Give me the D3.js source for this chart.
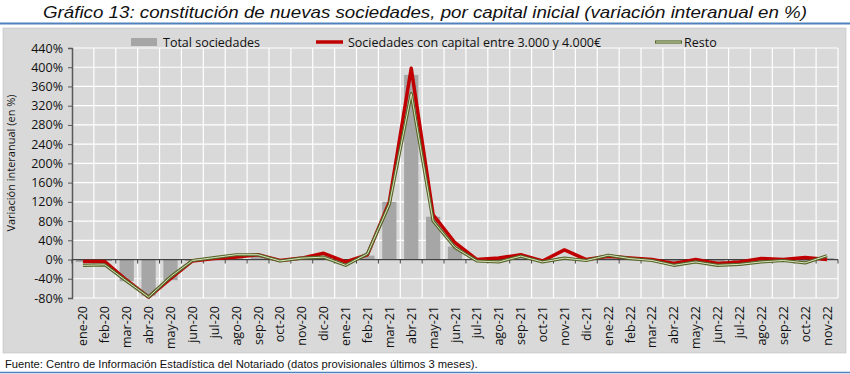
<!DOCTYPE html>
<html>
<head>
<meta charset="utf-8">
<script src="https://cdn.jsdelivr.net/npm/d3@7"></script>
<style>
  body { margin: 0; background: #fff; }
  svg { display: block; }
</style>
</head>
<body>
<div id="chart"></div>
<script>
// months shown on the x axis
var months = ["ene-20","feb-20","mar-20","abr-20","may-20","jun-20","jul-20","ago-20","sep-20","oct-20","nov-20","dic-20",
  "ene-21","feb-21","mar-21","abr-21","may-21","jun-21","jul-21","ago-21","sep-21","oct-21","nov-21","dic-21",
  "ene-22","feb-22","mar-22","abr-22","may-22","jun-22","jul-22","ago-22","sep-22","oct-22","nov-22"];

// Total sociedades (bars)
var total = [-5, -3, -45, -75, -43, -3, 3, 8, 8, -3, 2, 8,
  -8, 8, 120, 384, 89, 27, 2, 3, 8, -3, 5, 0,
  8, 3, 0, -8, -2, -10, -8, -2, 0, -3, 3];

// Sociedades con capital entre 3.000 y 4.000€
var capital = [-4, -4, -43, -78, -40, -3, 2, 5, 10, -2, 3, 13,
  -5, 10, 120, 398, 93, 35, 0, 3, 10, -3, 20, 0,
  7, 3, 0, -8, 0, -8, -5, 2, 0, 4, 0];

// Resto
var resto = [-12, -11, -45, -78, -36, -2, 4, 10, 10, -3, 3, 5,
  -12, 12, 115, 345, 80, 25, -3, -5, 7, -5, 3, -2,
  9, 2, -2, -12, -5, -12, -10, -5, -2, -7, 8];

var yTicks = [-80, -40, 0, 40, 80, 120, 160, 200, 240, 280, 320, 360, 400, 440];

var W = 850, H = 374;
var plot = { left: 72, right: 838, top: 48, bottom: 298 };

var svg = d3.select("#chart").append("svg")
  .attr("width", W)
  .attr("height", H);

// title
svg.append("text")
  .attr("x", 425)
  .attr("y", 18)
  .attr("text-anchor", "middle")
  .attr("font-family", "'Liberation Sans Narrow', 'Arial Narrow', 'Liberation Sans', sans-serif")
  .attr("font-style", "italic")
  .attr("font-size", "17px")
  .attr("fill", "#111")
  .attr("textLength", 764)
  .attr("lengthAdjust", "spacingAndGlyphs")
  .text("Gráfico 13: constitución de nuevas sociedades, por capital inicial (variación interanual en %)");

svg.append("line")
  .attr("x1", 0).attr("x2", W)
  .attr("y1", 23.5).attr("y2", 23.5)
  .attr("stroke", "#4f81bd")
  .attr("stroke-width", 2);

// chart background
svg.append("rect")
  .attr("x", 3).attr("y", 28)
  .attr("width", 843).attr("height", 325)
  .attr("fill", "#d9d9d9")
  .attr("stroke", "#bfbfbf")
  .attr("stroke-width", 0.6);

var x = d3.scaleBand()
  .domain(months)
  .range([plot.left, plot.right])
  .paddingInner(0.35)
  .paddingOuter(0.175);

var xEdge = d3.scaleLinear()
  .domain([0, months.length])
  .range([plot.left, plot.right]);

var y = d3.scaleLinear()
  .domain([-80, 440])
  .range([plot.bottom, plot.top]);

var g = svg.append("g");

// gridlines
g.selectAll(".hgrid")
  .data(yTicks)
  .enter()
  .append("line")
  .attr("x1", plot.left).attr("x2", plot.right)
  .attr("y1", d => y(d)).attr("y2", d => y(d))
  .attr("stroke", "#fff")
  .attr("stroke-width", 1.2);

g.selectAll(".vgrid")
  .data(d3.range(1, months.length + 1))
  .enter()
  .append("line")
  .attr("x1", d => xEdge(d)).attr("x2", d => xEdge(d))
  .attr("y1", plot.top).attr("y2", plot.bottom)
  .attr("stroke", "#fff")
  .attr("stroke-width", 1.2);

// bars
g.selectAll(".bar")
  .data(total)
  .enter()
  .append("rect")
  .attr("x", (d, i) => x(months[i]))
  .attr("width", x.bandwidth())
  .attr("y", d => y(Math.max(0, d)))
  .attr("height", d => Math.abs(y(d) - y(0)))
  .attr("fill", "#a6a6a6");

// axes
var leftAxis = d3.axisLeft(y)
  .tickValues(yTicks)
  .tickSize(4)
  .tickFormat(d => d + "%");

var yAxis = g.append("g")
  .attr("transform", `translate(${plot.left},0)`)
  .call(leftAxis);
yAxis.select(".domain").attr("stroke", "#595959").attr("stroke-width", 1.5);
yAxis.selectAll(".tick line").attr("stroke", "#595959");
yAxis.selectAll("text")
  .attr("font-family", "'Open Sans', 'Liberation Sans', sans-serif")
  .attr("font-size", "12.5px")
  .attr("fill", "#111")
  .attr("dx", "-2");

// x axis line at 0 with ticks at band edges
g.append("line")
  .attr("x1", plot.left).attr("x2", plot.right)
  .attr("y1", y(0)).attr("y2", y(0))
  .attr("stroke", "#404040")
  .attr("stroke-width", 1.3);

g.selectAll(".xtick")
  .data(d3.range(0, months.length + 1))
  .enter()
  .append("line")
  .attr("x1", d => xEdge(d)).attr("x2", d => xEdge(d))
  .attr("y1", y(0)).attr("y2", y(0) + 4)
  .attr("stroke", "#404040");

// x labels (rotated) under the plot
g.selectAll(".xlabel")
  .data(months)
  .enter()
  .append("text")
  .attr("transform", d => `translate(${x(d) + x.bandwidth() / 2 + 4.5},${plot.bottom + 8}) rotate(-90)`)
  .attr("text-anchor", "end")
  .attr("font-family", "'Open Sans', 'Liberation Sans', sans-serif")
  .attr("font-size", "12.5px")
  .attr("fill", "#111")
  .text(d => d);

// lines
var line = d3.line()
  .x((d, i) => x(months[i]) + x.bandwidth() / 2)
  .y(d => y(d));

g.append("path")
  .datum(capital)
  .attr("d", line)
  .attr("fill", "none")
  .attr("stroke", "#c00000")
  .attr("stroke-width", 3.5)
  .attr("stroke-linejoin", "round");

g.append("path")
  .datum(resto)
  .attr("d", line)
  .attr("fill", "none")
  .attr("stroke", "#56652a")
  .attr("stroke-width", 3.2)
  .attr("stroke-linejoin", "round");

g.append("path")
  .datum(resto)
  .attr("d", line)
  .attr("fill", "none")
  .attr("stroke", "#d7e4bd")
  .attr("stroke-width", 1)
  .attr("stroke-linejoin", "round");

// y axis title
svg.append("text")
  .attr("transform", "translate(15,163) rotate(-90)")
  .attr("text-anchor", "middle")
  .attr("font-family", "'Open Sans', 'Liberation Sans', sans-serif")
  .attr("font-size", "11px")
  .attr("fill", "#111")
  .text("Variación interanual (en %)");

// legend
var legend = svg.append("g")
  .attr("font-family", "'Open Sans', 'Liberation Sans', sans-serif")
  .attr("font-size", "12.5px")
  .attr("fill", "#111");

legend.append("rect")
  .attr("x", 131).attr("y", 38)
  .attr("width", 26).attr("height", 8)
  .attr("fill", "#a6a6a6");
legend.append("text")
  .attr("x", 163).attr("y", 46.5)
  .text("Total sociedades");

legend.append("line")
  .attr("x1", 316).attr("x2", 343)
  .attr("y1", 42).attr("y2", 42)
  .attr("stroke", "#c00000")
  .attr("stroke-width", 3.5);
legend.append("text")
  .attr("x", 348).attr("y", 46.5)
  .text("Sociedades con capital entre 3.000 y 4.000€");

legend.append("line")
  .attr("x1", 655).attr("x2", 682)
  .attr("y1", 42).attr("y2", 42)
  .attr("stroke", "#56652a")
  .attr("stroke-width", 3.2);
legend.append("line")
  .attr("x1", 656).attr("x2", 681)
  .attr("y1", 42).attr("y2", 42)
  .attr("stroke", "#d7e4bd")
  .attr("stroke-width", 1);
legend.append("text")
  .attr("x", 684).attr("y", 46.5)
  .text("Resto");

// footnote
svg.append("text")
  .attr("x", 5)
  .attr("y", 368)
  .attr("font-family", "'Liberation Sans', Arial, sans-serif")
  .attr("font-size", "11.2px")
  .attr("fill", "#111")
  .text("Fuente: Centro de Información Estadística del Notariado (datos provisionales últimos 3 meses).");

svg.append("line")
  .attr("x1", 0).attr("x2", W)
  .attr("y1", 372.5).attr("y2", 372.5)
  .attr("stroke", "#4f81bd")
  .attr("stroke-width", 1.5);
</script>
</body>
</html>
